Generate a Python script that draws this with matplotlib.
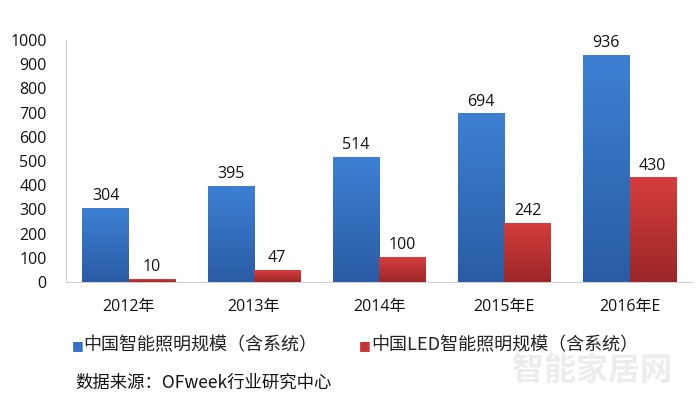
import numpy as np
import matplotlib
matplotlib.use("Agg")
from matplotlib import pyplot as plt
from matplotlib.colors import LinearSegmentedColormap

plt.rcParams['font.family'] = ['Open Sans', 'Noto Sans CJK SC', 'DejaVu Sans']

# dados
anos = ["2012年", "2013年", "2014年", "2015年E", "2016年E"]
smart = [304, 395, 514, 694, 936]
led = [10, 47, 100, 242, 430]
nome_smart = "中国智能照明规模（含系统）"
nome_led = "中国LED智能照明规模（含系统）"
fonte = "数据来源：OFweek行业研究中心"

fig = plt.figure(figsize=(6.97, 3.95), dpi=100)
ax = fig.add_axes([0.095, 0.286, 0.898, 0.613])

x = np.arange(len(anos))
w = 0.37
b1 = ax.bar(x - w/2, smart, w, color="#3570c4", label=nome_smart, zorder=2)
b2 = ax.bar(x + w/2, led, w, color="#c53535", label=nome_led, zorder=2)

# gradiente vertical nas barras
grad = np.linspace(0, 1, 100).reshape(-1, 1)
cm_azul = LinearSegmentedColormap.from_list("az", ["#2a5ca5", "#3d80d3"])
cm_verm = LinearSegmentedColormap.from_list("vm", ["#9c2727", "#d63d3d"])
for barras, cm in ((b1, cm_azul), (b2, cm_verm)):
    for r in barras:
        x0, y0 = r.get_x(), r.get_y()
        ax.imshow(grad, extent=[x0, x0 + r.get_width(), y0, y0 + r.get_height()],
                  origin="lower", cmap=cm, aspect="auto", zorder=3)

for r, v in zip(list(b1) + list(b2), smart + led):
    ax.text(r.get_x() + r.get_width()/2, v + 18, str(v), ha="center", va="bottom",
            fontsize=11.5, color="#111111", zorder=4)

ax.set_xlim(-0.5, len(anos) - 0.5)
ax.set_ylim(0, 1000)
ax.set_yticks(range(0, 1001, 100))
ax.set_xticks(x)
ax.set_xticklabels(anos, fontsize=11.5, color="#111111")
ax.tick_params(axis="y", labelsize=11.5, colors="#111111", length=0, pad=14)
ax.tick_params(axis="x", length=0, pad=12)
for s in ("top", "right"):
    ax.spines[s].set_visible(False)
for s in ("left", "bottom"):
    ax.spines[s].set_color("#d0d0d0")

# legenda
fig.text(0.103, 0.126, "■", color="#3570c4", fontsize=9, va="center",
         family=['DejaVu Sans'])
fig.text(0.119, 0.126, nome_smart, fontsize=13, va="center", color="#222222",
         family=['Noto Sans CJK SC', 'DejaVu Sans'])
fig.text(0.515, 0.126, "■", color="#c53535", fontsize=9, va="center",
         family=['DejaVu Sans'])
fig.text(0.532, 0.126, nome_led, fontsize=13, va="center", color="#222222",
         family=['Noto Sans CJK SC', 'DejaVu Sans'])

fig.text(0.108, 0.030, fonte, fontsize=12.5, va="center", color="#111111",
         family=['Noto Sans CJK SC', 'DejaVu Sans'])
# marca d'agua
fig.text(0.735, 0.060, "智能家居网", fontsize=23, va="center", color="#ececec",
         weight="bold", family=['Noto Sans CJK SC', 'DejaVu Sans'])

fig.savefig("out.png", dpi=100)
